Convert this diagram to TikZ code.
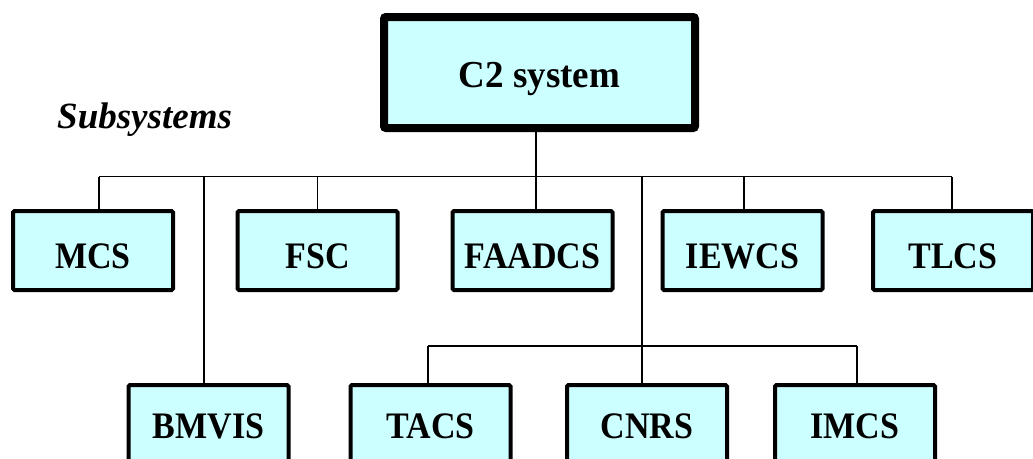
\documentclass[tikz,border=0pt]{standalone}
\usepackage{fontspec}
\usepackage{graphicx}
\setmainfont{Liberation Serif}
\definecolor{boxfill}{HTML}{CCFFFF}
\newcommand\talltext[1]{\scalebox{1}[1.1]{#1}}
\begin{document}
\begin{tikzpicture}[x=1pt,y=-1pt,
  sub/.style={draw, line width=4pt, fill=boxfill, rounded corners=1.5pt, minimum width=160pt, minimum height=79pt, inner sep=0pt, font=\fontsize{34}{40}\selectfont\bfseries, text depth=0pt},
  toprow/.style={sub, text height=35pt},
  botrow/.style={sub, text height=27pt},
  mainbox/.style={draw, line width=8pt, fill=boxfill, rounded corners=2pt, minimum width=311pt, minimum height=111pt, inner sep=0pt, font=\fontsize{37}{44}\selectfont\bfseries, text height=29pt, text depth=0pt},
  wire/.style={line width=1.3pt}]
\useasboundingbox (0,0) rectangle (1033,458);
\clip (0,0) rectangle (1033,458);

% boxes
\node[mainbox] (c2) at (539.5,72.5) {\scalebox{1}[1.03]{C2 system}};
\node[anchor=base west, inner sep=0pt, font=\fontsize{37}{44}\selectfont\bfseries\itshape] (subs) at (57,128) {Subsystems};

\node[toprow] (mcs) at (93,250.5) {\talltext{MCS}};
\node[toprow] (fsc) at (317.5,250.5) {\talltext{FSC}};
\node[toprow] (faadcs) at (532.5,250.5) {\talltext{FAADCS}};
\node[toprow] (iewcs) at (742.5,250.5) {\talltext{IEWCS}};
\node[toprow] (tlcs) at (953,250.5) {\talltext{TLCS}};

\node[botrow] (bmvis) at (208.5,424.5) {\talltext{BMVIS}};
\node[botrow] (tacs) at (430.5,424.5) {\talltext{TACS}};
\node[botrow] (cnrs) at (647,424.5) {\talltext{CNRS}};
\node[botrow] (imcs) at (855,424.5) {\talltext{IMCS}};

% connection points
\coordinate (bus) at (0,176.5);
\coordinate (sbus) at (0,346);
\coordinate (c2B) at ([xshift=-3.5pt]c2.south);
\coordinate (mcsT) at ([xshift=6pt]mcs.north);
\coordinate (fscT) at (fsc.north);
\coordinate (faadcsT) at ([xshift=3.5pt]faadcs.north);
\coordinate (iewcsT) at ([xshift=1.5pt]iewcs.north);
\coordinate (tlcsT) at ([xshift=-1pt]tlcs.north);
\coordinate (bmvisT) at ([xshift=-4.5pt]bmvis.north);
\coordinate (tacsT) at ([xshift=-2.5pt]tacs.north);
\coordinate (cnrsT) at ([xshift=-5pt]cnrs.north);
\coordinate (imcsT) at ([xshift=2pt]imcs.north);

% connectors
\draw[wire] (c2B) -- (c2B |- bus);
\draw[wire] (mcsT |- bus) -- (tlcsT |- bus);
\draw[wire] (mcsT) -- (mcsT |- bus);
\draw[wire] (fscT) -- (fscT |- bus);
\draw[wire] (faadcsT) -- (faadcsT |- bus);
\draw[wire] (iewcsT) -- (iewcsT |- bus);
\draw[wire] (tlcsT) -- (tlcsT |- bus);
\draw[wire] (bmvisT) -- (bmvisT |- bus);
\draw[wire] (cnrsT) -- (cnrsT |- bus);
\draw[wire] (tacsT |- sbus) -- (imcsT |- sbus);
\draw[wire] (tacsT) -- (tacsT |- sbus);
\draw[wire] (imcsT) -- (imcsT |- sbus);
\end{tikzpicture}
\end{document}
